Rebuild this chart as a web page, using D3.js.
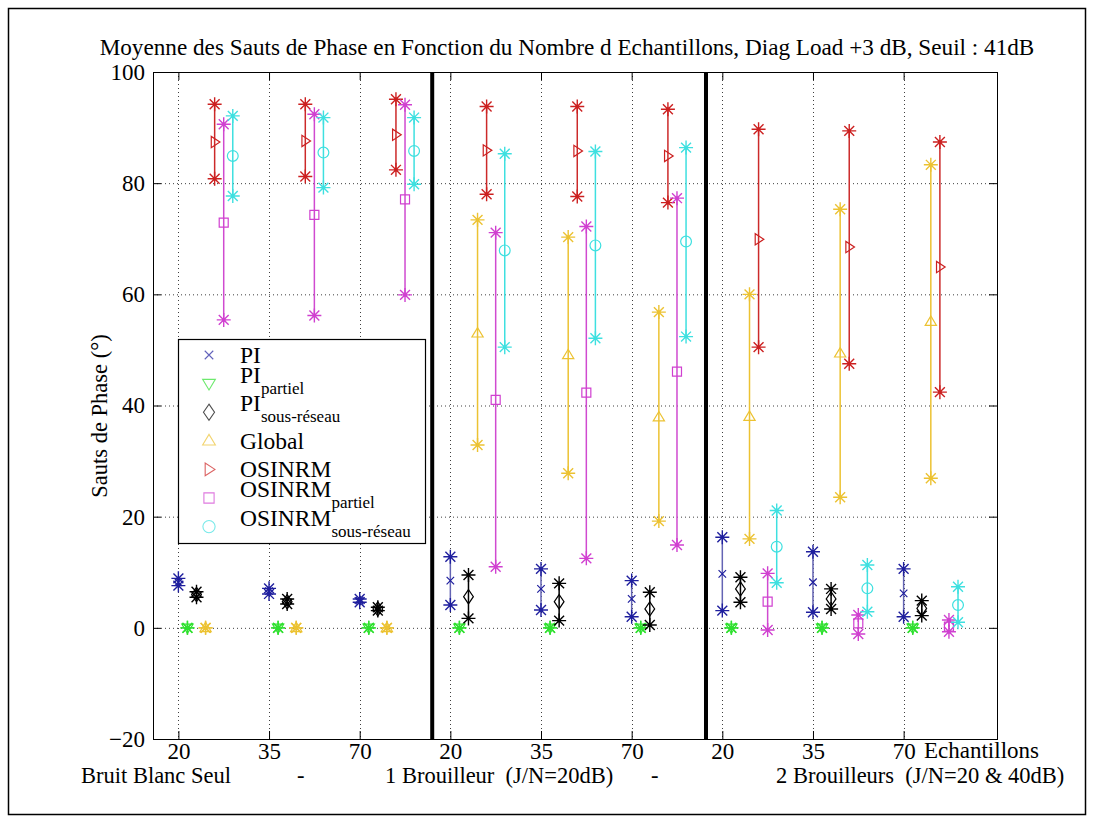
<!DOCTYPE html>
<html>
<head>
<meta charset="utf-8">
<script src="https://cdn.jsdelivr.net/npm/d3@7"></script>
<style>
  body { margin: 0; background: #fff; }
  svg text { font-family: "Liberation Serif", "Times New Roman", "DejaVu Serif", serif; fill: #000; }
</style>
</head>
<body>
<svg id="chart" width="1094" height="823" font-family="Liberation Serif, Times New Roman, serif"></svg>
<script>
// ---- data ----------------------------------------------------------------
const groupPositions = [1, 2, 3, 4, 5, 6, 7, 8, 9];
const sampleLabels   = ["20", "35", "70", "20", "35", "70", "20", "35", "70"];
const scenarioBreaks = [3.8, 6.82];
const yTickValues    = [-20, 0, 20, 40, 60, 80, 100];
const yGridValues    = [0, 20, 40, 60, 80];

// min / mean / max phase jumps (degrees) per configuration
const piMin   = [7.6, 6.1, 4.6, 4.1, 3.2, 2.0, 3.1, 2.8, 2.0];
const piMean  = [8.2, 6.6, 4.9, 8.5, 7.0, 5.2, 9.7, 8.2, 6.2];
const piMax   = [8.9, 7.1, 5.2, 12.8, 10.6, 8.5, 16.3, 13.7, 10.6];

const piPartMin  = [0, 0, 0, 0, 0, 0, 0, 0, 0];
const piPartMean = [0, 0, 0, 0, 0, 0, 0, 0, 0];
const piPartMax  = [0, 0, 0, 0, 0, 0, 0, 0, 0];

const piSrMin  = [5.5, 4.3, 3.1, 1.7, 1.3, 0.5, 4.6, 3.4, 2.2];
const piSrMean = [6.0, 4.7, 3.4, 5.6, 4.7, 3.4, 7.0, 5.2, 3.5];
const piSrMax  = [6.5, 5.2, 3.7, 9.5, 8.0, 6.4, 9.1, 7.0, 4.9];

const globalMin  = [0, 0, 0, 32.9, 27.8, 19.2, 16.0, 23.5, 26.9];
const globalMean = [0, 0, 0, 53.0, 49.1, 37.9, 38.0, 49.4, 55.1];
const globalMax  = [0, 0, 0, 73.4, 70.3, 56.8, 60.0, 75.3, 83.3];

const osMin  = [80.8, 81.2, 82.4, 78.0, 77.6, 76.5, 50.5, 47.5, 42.4];
const osMean = [87.4, 87.6, 88.7, 85.9, 85.8, 84.9, 69.9, 68.5, 64.9];
const osMax  = [94.2, 94.2, 95.1, 93.8, 93.8, 93.3, 89.7, 89.4, 87.4];

const osPartMin  = [55.4, 56.2, 59.9, 11.0, 12.5, 14.9, -0.4, -1.1, -0.7];
const osPartMean = [72.9, 74.3, 77.1, 41.0, 42.3, 46.1, 4.7, 0.8, 0.2];
const osPartMax  = [90.6, 92.4, 94.1, 71.1, 72.2, 77.3, 9.8, 2.3, 1.4];

const osSrMin  = [77.7, 79.2, 79.8, 50.5, 52.1, 52.4, 8.1, 2.9, 1.0];
const osSrMean = [84.9, 85.5, 85.8, 67.9, 68.8, 69.5, 14.6, 7.1, 4.1];
const osSrMax  = [92.1, 91.8, 91.8, 85.3, 85.7, 86.4, 21.1, 11.3, 7.4];

const titleText  = "Moyenne des Sauts de Phase en Fonction du Nombre d Echantillons, Diag Load +3 dB, Seuil : 41dB";
const yLabelText = "Sauts de Phase (\u00B0)";
const xUnitText  = "Echantillons";
const scenarioTexts = ["Bruit Blanc Seul", "-", "1 Brouilleur\u00A0\u00A0(J/N=20dB)", "-", "2 Brouilleurs\u00A0\u00A0(J/N=20 & 40dB)"];

// ---- series table ---------------------------------------------------------
const series = [
  { label: "PI",     sub: "",            min: piMin,     mean: piMean,     max: piMax,     color: "#1f1f9e", line: "#6464b4", mark: "x" },
  { label: "PI",     sub: "partiel",     min: piPartMin, mean: piPartMean, max: piPartMax, color: "#2fe02f", line: "#2fe02f", mark: "tdown" },
  { label: "PI",     sub: "sous-réseau", min: piSrMin,   mean: piSrMean,   max: piSrMax,   color: "#000000", line: "#000000", mark: "diamond" },
  { label: "Global", sub: "",            min: globalMin, mean: globalMean, max: globalMax, color: "#ecc232", line: "#ecc232", mark: "tup" },
  { label: "OSINRM", sub: "",            min: osMin,     mean: osMean,     max: osMax,     color: "#cc2020", line: "#cc2a2a", mark: "tright" },
  { label: "OSINRM", sub: "partiel",     min: osPartMin, mean: osPartMean, max: osPartMax, color: "#d040d0", line: "#d04ad0", mark: "square" },
  { label: "OSINRM", sub: "sous-réseau", min: osSrMin,   mean: osSrMean,   max: osSrMax,   color: "#3ee0e0", line: "#3ee0e0", mark: "circle" }
];
const seriesStep = 0.1;

// ---- layout ---------------------------------------------------------------
const plot = { left: 153, right: 997, top: 72, bottom: 739 };
const svg = d3.select("#chart");
const serif = "Liberation Serif, Times New Roman, serif";

const x = d3.scaleLinear().domain([0.72, 10.03]).range([plot.left, plot.right]);
const y = d3.scaleLinear().domain([-20, 100]).range([plot.bottom, plot.top]);

// outer figure frame
svg.append("rect").attr("x", 8.5).attr("y", 8.5).attr("width", 1077).attr("height", 806)
  .attr("fill", "#fff").attr("stroke", "#000").attr("stroke-width", 1.5);

// dotted grid
const grid = svg.append("g").attr("stroke", "#000").attr("stroke-width", 1)
  .attr("stroke-dasharray", "1,3").attr("opacity", 0.75);
grid.selectAll("line.h").data(yGridValues).join("line").attr("class", "h")
  .attr("x1", plot.left).attr("x2", plot.right)
  .attr("y1", d => y(d) + 0.5).attr("y2", d => y(d) + 0.5);
grid.selectAll("line.v").data(groupPositions).join("line").attr("class", "v")
  .attr("x1", d => Math.round(x(d)) + 0.5).attr("x2", d => Math.round(x(d)) + 0.5)
  .attr("y1", plot.top).attr("y2", plot.bottom);

// axes (inward ticks on all four sides)
const tickLen = 8;
const yAxisL = d3.axisLeft(y).tickValues(yTickValues).tickSize(-tickLen).tickPadding(8).tickFormat(d3.format("d"));
const yAxisR = d3.axisRight(y).tickValues(yTickValues).tickSize(-tickLen).tickFormat("");
const xAxisB = d3.axisBottom(x).tickValues(groupPositions).tickSize(-tickLen).tickPadding(4)
  .tickFormat((d, i) => sampleLabels[i]);
const xAxisT = d3.axisTop(x).tickValues(groupPositions).tickSize(-tickLen).tickFormat("");

function styleAxis(g) {
  g.attr("font-family", serif);
  g.select(".domain").remove();
  g.selectAll(".tick line").attr("stroke", "#000").attr("stroke-width", 1);
  g.selectAll(".tick text").attr("font-size", 23).attr("fill", "#000");
}
svg.append("g").attr("transform", `translate(${plot.left},0)`).call(yAxisL).call(styleAxis);
svg.append("g").attr("transform", `translate(${plot.right},0)`).call(yAxisR).call(styleAxis);
svg.append("g").attr("transform", `translate(0,${plot.bottom})`).call(xAxisB).call(styleAxis);
svg.append("g").attr("transform", `translate(0,${plot.top})`).call(xAxisT).call(styleAxis);

// plot box
svg.append("rect").attr("x", plot.left + 0.5).attr("y", plot.top + 0.5)
  .attr("width", plot.right - plot.left).attr("height", plot.bottom - plot.top)
  .attr("fill", "none").attr("stroke", "#000").attr("stroke-width", 1);

// scenario separators
svg.selectAll("line.sep").data(scenarioBreaks).join("line").attr("class", "sep")
  .attr("x1", d => x(d)).attr("x2", d => x(d))
  .attr("y1", plot.top).attr("y2", plot.bottom)
  .attr("stroke", "#000").attr("stroke-width", 4);

// ---- marker shapes --------------------------------------------------------
function asteriskPath(r) {
  const d = r * Math.SQRT1_2;
  return `M${-r},0L${r},0M0,${-r}L0,${r}M${-d},${-d}L${d},${d}M${-d},${d}L${d},${-d}`;
}
function markPath(kind, s) {
  switch (kind) {
    case "x":       return `M${-s*0.5},${-s*0.5}L${s*0.5},${s*0.5}M${-s*0.5},${s*0.5}L${s*0.5},${-s*0.5}`;
    case "tdown":   return `M${-s*0.75},${-s*0.5}L${s*0.75},${-s*0.5}L0,${s*0.75}Z`;
    case "tup":     return `M${-s*0.75},${s*0.5}L${s*0.75},${s*0.5}L0,${-s*0.75}Z`;
    case "tright":  return `M${-s*0.45},${-s*0.75}L${-s*0.45},${s*0.75}L${s*0.7},0Z`;
    case "diamond": return `M0,${-s*0.95}L${s*0.65},0L0,${s*0.95}L${-s*0.65},0Z`;
    case "square":  return `M${-s*0.6},${-s*0.6}H${s*0.6}V${s*0.6}H${-s*0.6}Z`;
    case "circle": {
      const r = s * 0.72;
      return `M${r},0A${r},${r},0,1,1,${-r},0A${r},${r},0,1,1,${r},0Z`;
    }
  }
}

// ---- ranges, extremes and means --------------------------------------------
const marks = svg.append("g");
series.forEach((s, k) => {
  const rows = groupPositions.map((p, i) => ({ pos: p + k * seriesStep, lo: s.min[i], mid: s.mean[i], hi: s.max[i] }));
  const g = marks.append("g");
  g.selectAll("line").data(rows).join("line")
    .attr("x1", d => x(d.pos)).attr("x2", d => x(d.pos))
    .attr("y1", d => y(d.lo)).attr("y2", d => y(d.hi))
    .attr("stroke", s.line).attr("stroke-width", 1.5);
  const ends = rows.flatMap(d => [{ pos: d.pos, v: d.lo }, { pos: d.pos, v: d.hi }]);
  g.selectAll("path.ast").data(ends).join("path").attr("class", "ast")
    .attr("transform", d => `translate(${x(d.pos)},${y(d.v)})`)
    .attr("d", asteriskPath(7)).attr("fill", "none")
    .attr("stroke", s.color).attr("stroke-width", 1.4);
  g.selectAll("circle.dot").data(ends).join("circle").attr("class", "dot")
    .attr("cx", d => x(d.pos)).attr("cy", d => y(d.v)).attr("r", 1.7).attr("fill", s.color);
  g.selectAll("path.mean").data(rows).join("path").attr("class", "mean")
    .attr("transform", d => `translate(${x(d.pos)},${y(d.mid)})`)
    .attr("d", markPath(s.mark, 7.5))
    .attr("fill", "none")
    .attr("stroke", s.color).attr("stroke-width", 1.2);
});

// ---- legend ------------------------------------------------------------------
const legend = { x: 178, y: 339, w: 247, h: 204, markX: 209, textX: 240, firstRow: 355, rowStep: 28.6 };
const lg = svg.append("g").attr("font-family", serif);
lg.append("rect").attr("x", legend.x + 0.5).attr("y", legend.y + 0.5)
  .attr("width", legend.w).attr("height", legend.h)
  .attr("fill", "#fff").attr("stroke", "#000").attr("stroke-width", 1.2);
series.forEach((s, k) => {
  const cy = legend.firstRow + k * legend.rowStep;
  lg.append("path").attr("transform", `translate(${legend.markX},${cy})`)
    .attr("d", markPath(s.mark, 8.5)).attr("fill", "none")
    .attr("stroke", s.color).attr("stroke-width", 1.1).attr("opacity", 0.7);
  const base = s.sub ? cy - 1 : cy + 8;
  const t = lg.append("text").attr("x", legend.textX).attr("y", base).attr("font-size", 23.5).text(s.label);
  if (s.sub) {
    t.append("tspan").attr("font-size", 17).attr("dy", 11).text(s.sub);
  }
});

// ---- titles and labels -------------------------------------------------------
svg.append("text").attr("x", 567).attr("y", 55)
  .attr("text-anchor", "middle").attr("font-size", 23.2).text(titleText);

svg.append("text").attr("transform", `translate(107,416) rotate(-90)`)
  .attr("text-anchor", "middle").attr("font-size", 22.5).text(yLabelText);

svg.append("text").attr("x", 924).attr("y", 758).attr("font-size", 23).text(xUnitText);

const scenarioX = [81, 297, 385, 651, 776];
svg.selectAll("text.scn").data(scenarioTexts).join("text").attr("class", "scn")
  .attr("x", (d, i) => scenarioX[i]).attr("y", 783).attr("font-size", 22.5)
  .text(d => d);
</script>
</body>
</html>
